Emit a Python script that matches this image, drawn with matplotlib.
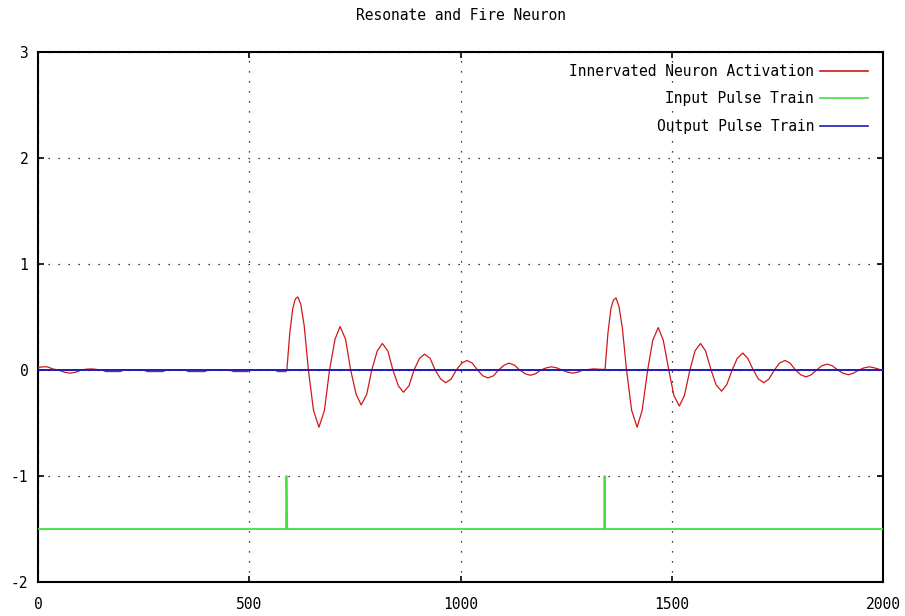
import matplotlib
matplotlib.use("Agg")
import matplotlib.pyplot as plt
from matplotlib.lines import Line2D

# ---------------- data ----------------
title = "Resonate and Fire Neuron"
series_names = ["Innervated Neuron Activation", "Input Pulse Train", "Output Pulse Train"]

act_t = [0, 10, 22, 35, 48, 62, 76, 90, 102, 115, 128, 140, 152, 160, 195, 203,
         250, 258, 296, 304, 348, 356, 395, 403, 455, 462, 495, 503, 560, 568, 587,
         589, 596, 603, 609, 615, 622, 630, 640, 652, 665, 678, 690, 703, 715, 728,
         740, 753, 765, 778, 790, 803, 815, 828, 840, 853, 865, 878, 890, 903, 915,
         928, 940, 953, 965, 978, 990, 1003, 1015, 1028, 1040, 1053, 1065, 1078,
         1090, 1103, 1115, 1128, 1140, 1153, 1165, 1178, 1190, 1203, 1215, 1228,
         1240, 1253, 1265, 1278, 1290, 1315, 1340,
         1342, 1349, 1356, 1362, 1368, 1375, 1383, 1393, 1405, 1418, 1430, 1443,
         1455, 1468, 1480, 1493, 1505, 1518, 1530, 1543, 1555, 1568, 1580, 1593,
         1605, 1618, 1630, 1643, 1655, 1668, 1680, 1693, 1705, 1718, 1730, 1743,
         1755, 1768, 1780, 1793, 1805, 1818, 1830, 1843, 1855, 1868, 1880, 1893,
         1905, 1918, 1930, 1943, 1955, 1968, 1980, 2000]
act_v = [0.02, 0.03, 0.03, 0.01, 0.0, -0.02, -0.03, -0.02, 0.0, 0.008, 0.01, 0.005,
         0.0, -0.015, -0.015, 0.0, 0.0, -0.015, -0.015, 0.0, 0.0, -0.015, -0.015,
         0.0, 0.0, -0.015, -0.015, 0.0, 0.0, -0.015, -0.015,
         0.0, 0.35, 0.58, 0.67, 0.69, 0.62, 0.42, 0.0, -0.38, -0.54, -0.38, 0.0,
         0.29, 0.41, 0.29, 0.0, -0.23, -0.33, -0.23, 0.0, 0.18, 0.25, 0.18, 0.0,
         -0.15, -0.21, -0.15, 0.0, 0.11, 0.15, 0.11, 0.0, -0.085, -0.12, -0.085,
         0.0, 0.065, 0.09, 0.065, 0.0, -0.055, -0.075, -0.055, 0.0, 0.045, 0.065,
         0.045, 0.0, -0.035, -0.05, -0.035, 0.0, 0.02, 0.03, 0.02, 0.0, -0.02,
         -0.03, -0.02, 0.0, 0.01, 0.005,
         0.0, 0.35, 0.58, 0.66, 0.68, 0.6, 0.4, 0.0, -0.38, -0.54, -0.38, 0.0,
         0.28, 0.40, 0.28, 0.0, -0.24, -0.34, -0.24, 0.0, 0.18, 0.25, 0.18, 0.0,
         -0.14, -0.20, -0.14, 0.0, 0.11, 0.16, 0.11, 0.0, -0.085, -0.12, -0.085,
         0.0, 0.065, 0.09, 0.065, 0.0, -0.045, -0.065, -0.045, 0.0, 0.04, 0.055,
         0.04, 0.0, -0.03, -0.045, -0.03, 0.0, 0.02, 0.03, 0.02, -0.005]

in_t = [0, 587, 588, 589, 590, 1340, 1341, 1342, 1343, 2000]
in_v = [-1.5, -1.5, -1.0, -1.25, -1.5, -1.5, -1.0, -1.5, -1.5, -1.5]

out_t = [0, 2000]
out_v = [0.0, 0.0]

xticks = [0, 500, 1000, 1500, 2000]
yticks = [-2, -1, 0, 1, 2, 3]

colors = ["#d01818", "#40e040", "#1c1cb8"]

# ---------------- figure ----------------
W, H = 905, 616
fig = plt.figure(figsize=(W / 100, H / 100), dpi=100)
L, R, T, B = 38, 883, 52, 582
ax = fig.add_axes([L / W, 1 - B / H, (R - L) / W, (B - T) / H])

font = "DejaVu Sans Mono"
fs = 10.5

ax.plot(act_t, act_v, color=colors[0], lw=0.9, zorder=3)
ax.plot(in_t, in_v, color=colors[1], lw=1.3, zorder=4)
ax.plot(out_t, out_v, color=colors[2], lw=1.4, zorder=5)

ax.set_xlim(0, 2000)
ax.set_ylim(-2, 3)
ax.set_xticks(xticks)
ax.set_yticks(yticks)
ax.set_xticklabels([str(v) for v in xticks], fontfamily=font, fontsize=fs)
ax.set_yticklabels([str(v) for v in yticks], fontfamily=font, fontsize=fs)
ax.tick_params(direction="in", length=4, width=1.2, top=True, right=True,
               colors="black")
ax.tick_params(axis="x", pad=11)
ax.tick_params(axis="y", pad=7)
ax.grid(True, color="black", linestyle=(0, (1, 7)), linewidth=0.9)
for s in ax.spines.values():
    s.set_linewidth(1.5)
    s.set_color("black")

fig.text((L + R) / 2 / W, 1 - 15 / H, title, ha="center", va="center",
         fontfamily=font, fontsize=fs)

# gnuplot-style legend: right aligned text, sample line on the right
rows_y = [71, 98, 126]
for name, c, ypx in zip(series_names, colors, rows_y):
    yf = 1 - ypx / H
    fig.text(814 / W, yf, name, ha="right", va="center", fontfamily=font,
             fontsize=fs)
    fig.add_artist(Line2D([820 / W, 868 / W], [yf, yf], color=c, lw=1.2,
                          transform=fig.transFigure))

fig.savefig("out.png", dpi=100)
